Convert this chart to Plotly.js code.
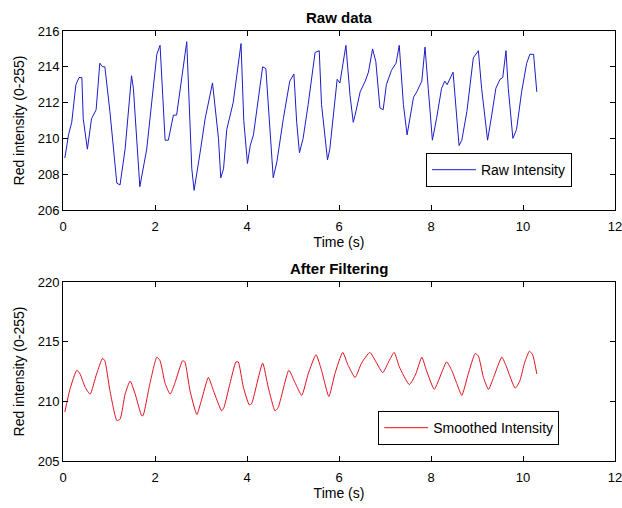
<!DOCTYPE html>
<html><head><meta charset="utf-8">
<script src="https://cdn.plot.ly/plotly-3.0.1.min.js"></script>
<style>html,body{margin:0;padding:0;background:#fff;}#chart{width:622px;height:508px;}</style>
</head><body><div id="chart"></div>
<script>
const rawT = [0.04,0.12,0.19,0.28,0.35,0.41,0.44,0.53,0.62,0.72,0.80,0.86,0.91,1.02,1.17,1.24,1.35,1.49,1.53,1.67,1.82,2.04,2.11,2.22,2.29,2.40,2.47,2.69,2.80,2.85,2.98,3.09,3.25,3.38,3.43,3.49,3.56,3.70,3.87,3.93,4.01,4.07,4.14,4.25,4.34,4.41,4.50,4.57,4.65,4.79,4.93,5.02,5.08,5.14,5.22,5.33,5.48,5.57,5.62,5.75,5.80,5.91,5.96,6.02,6.15,6.24,6.31,6.35,6.46,6.57,6.64,6.73,6.80,6.89,6.96,7.03,7.14,7.24,7.31,7.40,7.48,7.62,7.69,7.80,7.87,7.94,8.03,8.12,8.23,8.30,8.35,8.48,8.57,8.61,8.67,8.78,8.92,9.03,9.10,9.23,9.32,9.41,9.50,9.56,9.63,9.68,9.78,9.86,9.97,10.08,10.15,10.23,10.30];
const rawV = [208.9,210.2,210.9,213.0,213.4,213.4,211.1,209.4,211.1,211.6,214.2,214.0,214.0,211.5,207.5,207.4,209.4,213.5,212.8,207.3,209.4,214.7,215.2,209.9,209.9,211.3,211.3,215.4,208.3,207.1,209.2,211.1,213.1,210.0,207.8,208.3,210.5,212.0,215.3,211.0,208.6,209.6,210.2,212.2,214.0,213.9,210.7,207.8,208.7,211.1,213.2,213.6,210.9,209.2,210.0,211.9,214.8,214.9,211.9,208.8,209.4,211.9,213.3,213.1,215.2,212.4,210.9,211.3,212.6,213.2,213.7,215.0,214.3,211.7,211.6,213.0,213.8,214.2,215.2,211.9,210.2,212.3,212.6,213.2,215.1,212.8,209.9,211.1,212.8,213.2,213.0,213.7,210.9,209.6,209.9,211.5,214.5,214.9,212.8,209.9,211.3,212.8,213.3,213.4,214.9,212.8,210.0,210.5,212.6,214.2,214.7,214.7,212.6];
const smoothT = [0.04,0.15,0.30,0.37,0.48,0.59,0.73,0.86,0.91,1.02,1.17,1.24,1.35,1.46,1.57,1.71,1.74,1.89,2.04,2.11,2.22,2.33,2.43,2.60,2.65,2.76,2.91,3.01,3.16,3.27,3.45,3.50,3.63,3.76,3.81,3.92,4.05,4.10,4.34,4.46,4.61,4.68,4.91,5.04,5.19,5.33,5.50,5.62,5.78,5.91,6.08,6.20,6.35,6.49,6.67,6.82,6.95,7.09,7.20,7.31,7.53,7.67,7.80,7.90,8.07,8.16,8.34,8.45,8.56,8.67,8.81,8.96,9.03,9.14,9.25,9.36,9.54,9.64,9.83,9.93,10.04,10.14,10.21,10.30];
const smoothV = [209.1,211.0,212.6,212.3,211.2,210.6,212.3,213.6,213.4,210.9,208.4,208.5,210.6,211.7,210.6,208.8,208.8,211.5,213.7,213.4,211.5,210.6,211.5,213.4,213.3,210.9,208.9,210.1,212.0,210.9,209.2,209.5,211.5,213.3,213.3,211.2,209.7,209.8,213.2,211.2,209.2,209.5,212.6,211.6,210.5,212.3,213.9,212.6,210.4,212.3,214.1,213.0,212.0,213.2,214.1,213.2,212.4,213.4,214.1,212.9,211.4,212.3,213.7,212.6,211.0,211.7,213.3,212.6,211.5,210.5,212.3,214.0,213.8,212.0,211.0,212.0,213.7,212.9,211.1,211.7,213.3,214.2,213.9,212.3];
const xTicks = [0,2,4,6,8,10,12];
const rawYTicks = [206,208,210,212,214,216];
const smoothYTicks = [205,210,215,220];
const seriesNames = ['Raw Intensity','Smoothed Intensity'];
const panelTitles = ['Raw data','After Filtering'];
const xLabel = 'Time (s)';
const yLabel = 'Red intensity (0-255)';

const fontFam = 'Liberation Sans, Arial, sans-serif';
function xax(anchor){
  return {range:[0,12], tickvals:xTicks, ticks:'inside', ticklen:5, tickcolor:'#000', mirror:'ticks',
    showline:true, linecolor:'#000', linewidth:1, showgrid:false, zeroline:false, anchor:anchor,
    ticklabelstandoff:4, ticklabeloverflow:'allow',
    tickfont:{size:13,color:'#000'}, title:{text:xLabel, font:{size:14,color:'#000'}, standoff:3}};
}
function yax(range, ticks, domain){
  return {range:range, tickvals:ticks, ticks:'inside', ticklen:5, tickcolor:'#000', mirror:'ticks',
    showline:true, linecolor:'#000', linewidth:1, showgrid:false, zeroline:false, domain:domain,
    ticklabeloverflow:'allow',
    tickfont:{size:13,color:'#000'}, title:{text:yLabel, font:{size:14,color:'#000'}, standoff:9}};
}
const data = [
  {x:rawT, y:rawV, type:'scatter', mode:'lines', name:seriesNames[0], line:{color:'#1c1cc8', width:1}, xaxis:'x', yaxis:'y', legend:'legend'},
  {x:smoothT, y:smoothV, type:'scatter', mode:'lines', name:seriesNames[1], line:{color:'#e0101e', width:1, shape:'spline', smoothing:0.5}, xaxis:'x2', yaxis:'y2', legend:'legend2'}
];
const legendBase = {xref:'paper', yref:'paper', xanchor:'right', yanchor:'bottom', bgcolor:'#fff', bordercolor:'#000', borderwidth:1, itemwidth:44, font:{size:14,color:'#000', family:fontFam}, tracegroupgap:0};
const layout = {
  width:622, height:508, paper_bgcolor:'#fff', plot_bgcolor:'#fff',
  font:{family:fontFam, size:13, color:'#000'},
  margin:{l:63, r:7, t:31, b:47},
  showlegend:true,
  xaxis: Object.assign(xax('y'), {domain:[0,1]}),
  yaxis: yax([206,216], rawYTicks, [0.5837,1]),
  xaxis2: Object.assign(xax('y2'), {domain:[0,1]}),
  yaxis2: yax([205,220], smoothYTicks, [0,0.4163]),
  legend: Object.assign({}, legendBase, {x:0.922, y:0.637}),
  legend2: Object.assign({}, legendBase, {x:0.899, y:0.037}),
  annotations:[
    {text:'<b>'+panelTitles[0]+'</b>', xref:'paper', yref:'paper', x:0.5, y:1, yanchor:'bottom', yshift:3, showarrow:false, font:{size:15,color:'#000'}},
    {text:'<b>'+panelTitles[1]+'</b>', xref:'paper', yref:'paper', x:0.5, y:0.4163, yanchor:'bottom', yshift:3, showarrow:false, font:{size:15,color:'#000'}}
  ]
};
Plotly.newPlot('chart', data, layout, {displayModeBar:false, staticPlot:true});
</script></body></html>
